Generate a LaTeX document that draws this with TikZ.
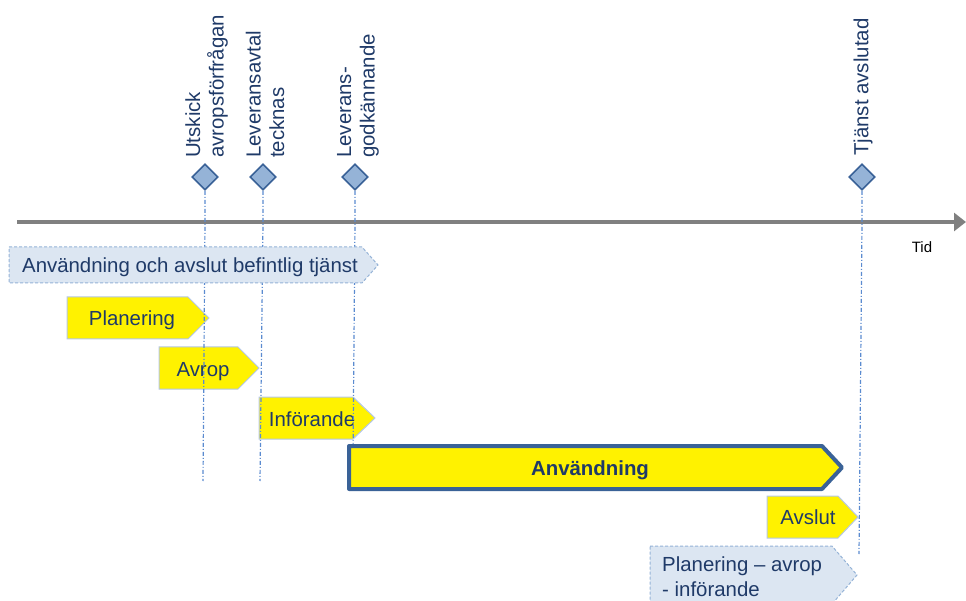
\documentclass[tikz,border=0pt]{standalone}
\usepackage{fontspec}
\setmainfont{Liberation Sans}
\usetikzlibrary{arrows.meta,shapes.geometric}

\definecolor{navy}{HTML}{1F3A68}
\definecolor{axisgray}{HTML}{808080}
\definecolor{msfill}{HTML}{95B3D7}
\definecolor{msedge}{HTML}{3A6297}
\definecolor{guideblue}{HTML}{5B8BD0}
\definecolor{paleblue}{HTML}{DCE6F2}
\definecolor{paleedge}{HTML}{95B3D7}
\definecolor{yellowedge}{HTML}{B4C7E7}

% chevron: [style]{left}{top}{body right}{bottom}{tip x}
\newcommand\chevron[6][]{%
  \draw[#1] (#2,#3) -- (#4,#3) -- (#6,{(#3+#5)/2}) -- (#4,#5) -- (#2,#5) -- cycle;}

\tikzset{
  txt/.style={font=\fontsize{20.4}{23.5}\selectfont, text=navy, inner sep=0pt},
  lbl/.style={txt, anchor=base},
  vlabel/.style={txt, rotate=90, anchor=west, align=left},
  milestone/.style={diamond, draw=msedge, line width=1.6pt, fill=msfill,
    minimum width=26pt, minimum height=26pt, inner sep=0pt},
  guide/.style={guideblue, line width=1.2pt,
    dash pattern=on 4pt off 2pt on 1pt off 2pt},
  axisline/.style={axisgray, line width=3.5pt,
    -{Triangle[length=12pt,width=18pt]}},
  phase/.style={fill=yellow, draw=yellowedge, line width=1pt},
  context/.style={fill=paleblue, draw=paleedge, line width=1pt,
    dash pattern=on 3pt off 2pt},
  mainphase/.style={fill=yellow, draw=msedge, line width=4pt, line join=round},
}

\begin{document}
\begin{tikzpicture}[x=1pt,y=-1pt]
\useasboundingbox (0,0) rectangle (966,601);

% time axis
\coordinate (t0) at (17,222);
\coordinate (t1) at (966,222);
\draw[axisline] (t0) -- (t1);
\node[font=\fontsize{15}{16}\selectfont, inner sep=0pt] (tid) at (922,247) {Tid};

% yellow phases
\chevron[phase]{67}{297}{188}{339}{209}
\node[lbl] (plan) at (132,326) {Planering};
\chevron[phase]{159}{347}{238}{389}{259}
\node[lbl] (avrop) at (203,376) {Avrop};
\chevron[phase]{259}{397}{353}{439}{375}
\node[lbl] (inf) at (312,426) {Införande};
\chevron[phase]{767}{496}{838}{538}{858}
\node[lbl] (avslut) at (808,524.5) {Avslut};

% milestones and their guide lines
\node[milestone] (m1) at (205,177) {};
\node[milestone] (m2) at (263,177) {};
\node[milestone] (m3) at (355,177) {};
\node[milestone] (m4) at (862,177) {};
\coordinate (g1) at (203,481);
\coordinate (g2) at (260,481);
\coordinate (g3) at (353,456);
\coordinate (g4) at (859,554);
\draw[guide] (m1.south) -- (m1.south |- t0) -- (g1);
\draw[guide] (m2.south) -- (m2.south |- t0) -- (g2);
\draw[guide] (m3.south) -- (m3.south |- t0) -- (g3);
\draw[guide] (m4.south) -- (m4.south |- t0) -- (g4);

\node[vlabel] (l1) at (206.5,158) {Utskick\\avropsförfrågan};
\node[vlabel] (l2) at (265,158) {Leveransavtal\\tecknas};
\node[vlabel] (l3) at (358,158) {Leverans-\\godkännande};
\node[vlabel] (l4) at (863,156) {Tjänst avslutad};

% existing service and next cycle
\chevron[context]{9}{247}{362}{283}{378}
\node[lbl] (befintlig) at (190,273) {Användning och avslut befintlig tjänst};
\chevron[context]{650}{546}{832}{604}{857}
\node[txt, anchor=north west, align=left, font=\fontsize{20.4}{25}\selectfont]
  (nasta) at (662,557) {Planering – avrop\\- införande};

% main usage phase
\chevron[mainphase]{349}{446}{822}{489}{842}
\node[lbl, font=\fontsize{20.4}{23.5}\selectfont\bfseries] (anv) at (590,475) {Användning};
\end{tikzpicture}
\end{document}
